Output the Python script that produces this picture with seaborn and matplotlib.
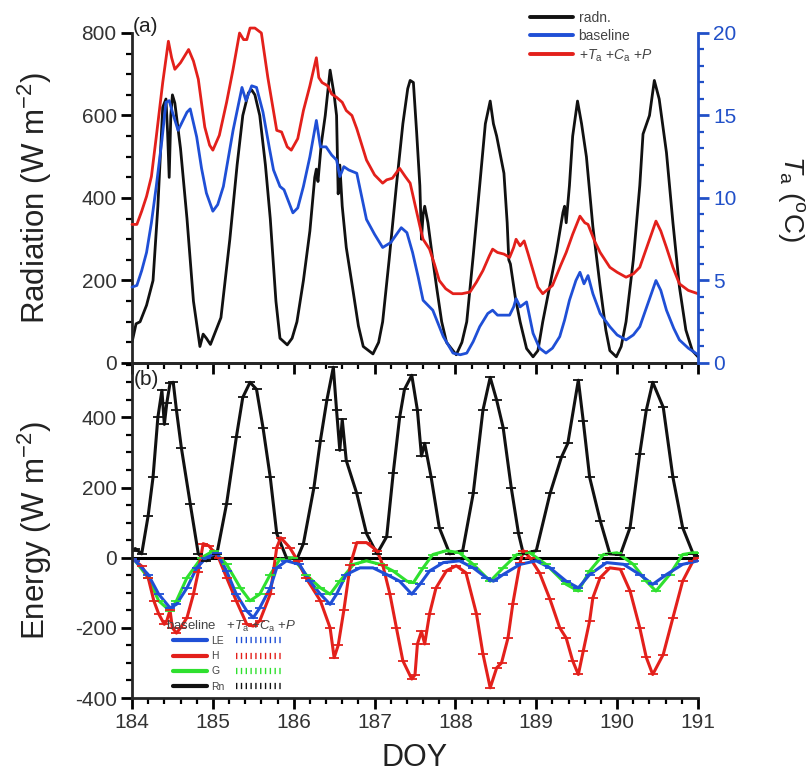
import numpy as np
import pandas as pd
import matplotlib
matplotlib.use("Agg")
import matplotlib.pyplot as plt
from matplotlib.lines import Line2D
from matplotlib.ticker import MultipleLocator
import seaborn as sns

# ---------------- data: top panel ----------------
rad_doy = [184.0, 184.05, 184.1, 184.18, 184.26, 184.32, 184.38, 184.42, 184.44, 184.46, 184.48, 184.5,
           184.53, 184.6, 184.68, 184.76, 184.84, 184.88, 184.92, 184.97, 185.04, 185.1, 185.21, 185.3,
           185.37, 185.44, 185.48, 185.52, 185.58, 185.65, 185.71, 185.78, 185.83, 185.92, 185.98, 186.04,
           186.12, 186.2, 186.26, 186.28, 186.3, 186.34, 186.39, 186.45, 186.5, 186.53, 186.55, 186.57,
           186.6, 186.65, 186.73, 186.8, 186.86, 186.98, 187.05, 187.1, 187.18, 187.27, 187.35, 187.41,
           187.44, 187.48, 187.52, 187.56, 187.58, 187.6, 187.62, 187.66, 187.72, 187.77, 187.83, 187.89, 188.01,
           188.08, 188.14, 188.22, 188.3, 188.37, 188.43, 188.47, 188.51, 188.56, 188.6, 188.64, 188.66,
           188.68, 188.74, 188.8, 188.88, 188.96, 189.02, 189.08, 189.16, 189.25, 189.33, 189.35, 189.37,
           189.41, 189.45, 189.51, 189.56, 189.62, 189.7, 189.79, 189.86, 189.91, 189.99, 190.05, 190.11,
           190.2, 190.28, 190.32, 190.4, 190.46, 190.52, 190.61, 190.69, 190.77, 190.85, 190.93, 191.0]
rad_val = [50, 95, 100, 140, 200, 380, 620, 640, 560, 450, 600, 650,
           630, 520, 350, 150, 40, 70, 60, 45, 80, 110, 300, 480,
           600, 655, 662, 650, 600, 480, 350, 150, 60, 44, 60, 100,
           200, 320, 450, 470, 440, 530, 600, 710, 650, 600, 410, 480,
           380, 280, 180, 90, 40, 22, 50, 100, 250, 430, 580, 665,
           685, 680, 560, 430, 300, 360, 380, 340, 250, 180, 100, 50, 20,
           50, 100, 260, 430, 580, 635, 580, 550, 500, 460, 340, 250,
           240, 160, 100, 35, 15, 30, 100, 180, 270, 365, 380, 340,
           430, 550, 635, 580, 500, 330, 185, 80, 30, 15, 40, 100,
           250, 430, 555, 600, 685, 640, 510, 340, 185, 80, 30, 15]

ta_scen_doy = [184.0, 184.06, 184.12, 184.18, 184.24, 184.3, 184.38, 184.45, 184.49, 184.53, 184.6, 184.7,
               184.76, 184.82, 184.9, 184.96, 185.0, 185.08, 185.17, 185.25, 185.33, 185.38, 185.42, 185.46,
               185.52, 185.6, 185.68, 185.79, 185.85, 185.92, 185.97, 186.05, 186.12, 186.2, 186.28, 186.31,
               186.35, 186.42, 186.47, 186.53, 186.6, 186.65, 186.72, 186.78, 186.9, 187.0, 187.1, 187.15,
               187.22, 187.31, 187.38, 187.44, 187.5, 187.56, 187.6, 187.68, 187.74, 187.8, 187.88, 187.97,
               188.08, 188.18, 188.26, 188.34, 188.42, 188.46, 188.52, 188.6, 188.67, 188.72, 188.75, 188.8,
               188.85, 188.9, 188.96, 189.02, 189.08, 189.2, 189.3, 189.37, 189.45, 189.54, 189.6, 189.64,
               189.72, 189.79, 189.91, 190.0, 190.11, 190.2, 190.28, 190.38, 190.48, 190.54, 190.61, 190.69,
               190.77, 190.88, 191.0]
ta_scen_val = [8.4, 8.4, 9.2, 10.1, 11.3, 13.7, 17.0, 19.5, 18.5, 17.8, 18.2, 19.0,
               18.3, 17.2, 14.3, 13.2, 12.9, 13.8, 15.8, 17.8, 20.0, 19.6, 19.6, 20.3,
               20.3, 20.0, 17.3, 14.1, 14.0, 13.1, 12.9, 13.6, 15.3, 16.8, 18.5, 17.3,
               17.0, 16.8, 16.3, 16.1, 15.8, 15.3, 15.0, 14.2, 12.3, 11.4, 10.9, 11.1,
               11.2, 11.8, 11.3, 10.9, 9.6, 8.3, 7.5, 6.9, 6.0, 5.0, 4.5, 4.2,
               4.2, 4.3, 4.9, 5.6, 6.5, 6.9, 6.7, 6.6, 6.4, 7.0, 7.5, 7.1,
               7.4, 6.6, 5.6, 4.6, 4.2, 4.7, 5.9, 6.7, 7.8, 8.9, 8.5, 8.4,
               7.4, 6.7, 5.8, 5.5, 5.2, 5.4, 5.8, 7.2, 8.6, 8.0, 7.0, 5.8,
               4.8, 4.4, 4.2]

ta_base_doy = [184.0, 184.06, 184.12, 184.18, 184.24, 184.3, 184.37, 184.42, 184.46, 184.5, 184.57, 184.63,
               184.68, 184.72, 184.8, 184.86, 184.92, 185.0, 185.06, 185.13, 185.25, 185.36, 185.41, 185.48,
               185.54, 185.62, 185.7, 185.75, 185.83, 185.88, 185.99, 186.05, 186.12, 186.2, 186.28, 186.33,
               186.4, 186.47, 186.53, 186.57, 186.62, 186.68, 186.78, 186.9, 187.0, 187.1, 187.2, 187.33,
               187.4, 187.47, 187.54, 187.6, 187.72, 187.85, 187.97, 188.06, 188.14, 188.22, 188.3, 188.4,
               188.46, 188.52, 188.67, 188.72, 188.75, 188.8, 188.88, 188.96, 189.04, 189.12, 189.2, 189.29,
               189.35, 189.41, 189.49, 189.54, 189.59, 189.64, 189.7, 189.79, 189.91, 190.0, 190.11, 190.2,
               190.28, 190.38, 190.48, 190.54, 190.61, 190.7, 190.77, 190.88, 191.0]
ta_base_val = [4.6, 4.7, 5.6, 6.7, 8.5, 10.7, 13.5, 15.8, 15.9, 15.2, 14.1, 14.7,
               15.2, 15.4, 13.7, 11.8, 10.3, 9.2, 9.6, 10.7, 14.1, 16.7, 15.9, 16.8,
               16.7, 15.2, 13.0, 11.7, 10.7, 10.5, 9.1, 9.4, 10.7, 12.5, 14.7, 13.1,
               13.1, 12.6, 12.3, 11.3, 11.9, 11.7, 11.5, 8.7, 7.8, 7.0, 7.3, 8.2,
               7.9, 6.7, 5.2, 3.8, 3.2, 1.6, 0.6, 0.5, 0.6, 1.3, 2.2, 3.0,
               3.2, 2.9, 2.9, 3.4, 3.9, 3.4, 3.7, 1.8, 0.9, 0.6, 0.9, 1.6,
               2.6, 3.8, 5.0, 5.5, 4.8, 5.3, 4.2, 3.0, 2.2, 1.7, 1.4, 1.7,
               2.2, 3.6, 5.0, 4.4, 3.2, 2.1, 1.4, 0.9, 0.5]

# ---------------- data: bottom panel ----------------
rn_doy = [184.0, 184.04, 184.12, 184.2, 184.26, 184.32, 184.37, 184.4, 184.43, 184.47, 184.51, 184.55,
          184.61, 184.72, 184.82, 184.92, 185.05, 185.17, 185.29, 185.37, 185.46, 185.54, 185.62, 185.71,
          185.79, 185.91, 186.04, 186.12, 186.25, 186.33, 186.41, 186.49, 186.53, 186.57, 186.6, 186.65,
          186.78, 186.9, 187.03, 187.15, 187.23, 187.31, 187.37, 187.46, 187.53, 187.58, 187.62, 187.7,
          187.8, 187.93, 188.09, 188.22, 188.34, 188.43, 188.51, 188.59, 188.69, 188.78, 188.84, 189.0,
          189.17, 189.31, 189.39, 189.52, 189.58, 189.66, 189.79, 189.91, 190.04, 190.16, 190.28, 190.36,
          190.44, 190.57, 190.69, 190.81, 190.94, 191.0]
rn_val = [20, 26, 11, 120, 229, 400, 477, 380, 440, 497, 500, 420,
          314, 154, 11, -9, 11, 154, 343, 457, 500, 480, 371, 229,
          69, 0, -4, 40, 200, 334, 449, 543, 420, 306, 394, 277,
          183, 69, 11, 60, 240, 400, 480, 520, 420, 290, 326, 229,
          86, 11, 20, 183, 420, 514, 449, 371, 200, 69, 11, 20,
          183, 286, 326, 506, 391, 229, 106, 11, 9, 86, 297, 420,
          500, 429, 229, 86, 11, 5]

h_doy = [184.0, 184.04, 184.12, 184.2, 184.27, 184.33, 184.4, 184.43, 184.47, 184.5, 184.55, 184.6,
         184.68, 184.76, 184.82, 184.88, 184.95, 185.07, 185.17, 185.29, 185.42, 185.5, 185.58, 185.71,
         185.79, 185.84, 185.95, 186.05, 186.15, 186.33, 186.45, 186.5, 186.55, 186.62, 186.7, 186.78,
         186.9, 187.03, 187.1, 187.19, 187.27, 187.35, 187.46, 187.5, 187.53, 187.58, 187.62, 187.68,
         187.76, 187.89, 188.01, 188.13, 188.26, 188.34, 188.43, 188.51, 188.57, 188.65, 188.71, 188.8,
         188.84, 188.92, 189.04, 189.17, 189.29, 189.37, 189.45, 189.52, 189.58, 189.66, 189.7, 189.79,
         189.91, 190.04, 190.16, 190.28, 190.36, 190.44, 190.57, 190.69, 190.81, 190.94, 191.0]
h_val = [-5, -9, -24, -57, -123, -160, -190, -180, -150, -200, -215, -200,
         -171, -104, -40, 40, 34, 0, -57, -123, -190, -195, -180, -104,
         29, 57, 29, -9, -57, -123, -200, -285, -250, -150, -20, 43,
         43, 20, -20, -104, -200, -294, -346, -334, -246, -210, -246, -160,
         -86, -37, -23, -43, -160, -274, -371, -314, -300, -229, -131, -14,
         20, 0, -43, -119, -200, -229, -294, -333, -267, -180, -114, -57,
         -29, -33, -95, -200, -284, -333, -276, -171, -67, -9, 0]

le_doy = [184.0, 184.04, 184.2, 184.33, 184.47, 184.55, 184.68, 184.8, 184.92, 185.05, 185.17, 185.29,
          185.42, 185.5, 185.58, 185.71, 185.79, 185.91, 186.07, 186.2, 186.33, 186.45, 186.53, 186.65,
          186.82, 186.98, 187.15, 187.31, 187.46, 187.56, 187.68, 187.85, 188.05, 188.22, 188.38, 188.47,
          188.59, 188.8, 189.0, 189.17, 189.37, 189.52, 189.66, 189.87, 190.08, 190.28, 190.44, 190.61,
          190.81, 191.0]
le_val = [-5, -9, -48, -104, -143, -133, -86, -29, 0, 14, -38, -104,
          -152, -171, -143, -86, -29, -9, -19, -67, -104, -133, -104, -48,
          -29, -29, -48, -67, -104, -76, -38, -14, -9, -29, -57, -67,
          -48, -19, -9, -29, -67, -86, -48, -14, -19, -48, -76, -48,
          -19, -9]

g_doy = [184.0, 184.04, 184.2, 184.33, 184.47, 184.55, 184.68, 184.86, 185.01, 185.17, 185.34, 185.46,
         185.58, 185.71, 185.83, 185.99, 186.15, 186.33, 186.45, 186.57, 186.74, 186.9, 187.07, 187.23,
         187.4, 187.48, 187.6, 187.72, 187.89, 188.05, 188.22, 188.43, 188.59, 188.76, 188.92, 189.12,
         189.37, 189.52, 189.66, 189.83, 190.0, 190.2, 190.36, 190.48, 190.65, 190.81, 190.94, 191.0]
g_val = [-5, -9, -57, -123, -152, -123, -57, 0, 20, -19, -86, -123,
         -104, -48, -4, 0, -48, -86, -104, -67, -19, -9, -19, -38,
         -67, -71, -29, 9, 20, 14, -19, -67, -29, 9, 14, -19,
         -76, -95, -38, 9, 14, -19, -67, -95, -48, 9, 14, 14]

# scenario (+Ta +Ca +P) energy fluxes: visually coincide with baseline
rn_scen_val = rn_val
h_scen_val = h_val
le_scen_val = le_val
g_scen_val = g_val

flux_names = ["LE", "H", "G", "Rn"]
top_labels = ["radn.", "baseline", "+$T_\\mathregular{a}$ +$C_\\mathregular{a}$ +$P$"]

# ---------------- style ----------------
sns.set_style("ticks")
plt.rcParams["font.family"] = ["Liberation Sans", "DejaVu Sans"]
plt.rcParams["mathtext.fontset"] = "custom"
plt.rcParams["mathtext.it"] = "Liberation Sans:italic"
plt.rcParams["mathtext.rm"] = "Liberation Sans"
plt.rcParams["axes.unicode_minus"] = False

BLACK = "#111111"
BLUE = "#1f4fd6"
RED = "#e3201b"
GREEN = "#2fe02f"
AXBLUE = "#2150c8"
TXT = "#333333"

fig = plt.figure(figsize=(8.09, 7.77), dpi=100)
L, W = 132 / 809, 566 / 809
ax1 = fig.add_axes([L, 1 - 363 / 777, W, 330 / 777])
ax2 = fig.add_axes([L, 1 - 698 / 777, W, 335 / 777])
ax2.patch.set_visible(False)
ax1r = ax1.twinx()

def line(ax, x, y, color, lw, **kw):
    sns.lineplot(x=x, y=y, ax=ax, color=color, lw=lw, sort=False, estimator=None, **kw)

# top panel
line(ax1, rad_doy, rad_val, BLACK, 2.0)
line(ax1r, ta_base_doy, ta_base_val, BLUE, 2.0)
line(ax1r, ta_scen_doy, ta_scen_val, RED, 2.0)
for ln in ax1r.lines:
    ln.set_clip_on(False)

ax1.set_xlim(184, 191)
ax1.set_ylim(0, 800)
ax1r.set_ylim(0, 20)

# bottom panel
ax2.axhline(0, color="black", lw=2.2, zorder=1)
series = [(le_doy, le_val, le_scen_val, BLUE),
          (h_doy, h_val, h_scen_val, RED),
          (g_doy, g_val, g_scen_val, GREEN),
          (rn_doy, rn_val, rn_scen_val, BLACK)]
for x, yb, ys, c in series[::-1]:
    line(ax2, x, yb, c, 2.2)
for x, yb, ys, c in series[::-1]:
    sns.lineplot(x=x, y=ys, ax=ax2, color=c, lw=0, sort=False, estimator=None,
                 marker="_", markersize=7, markeredgewidth=1.3, markeredgecolor=c)
ax2.set_xlim(184, 191)
ax2.set_ylim(-400, 555)

# ---------------- axes cosmetics ----------------
for ax in (ax1, ax2):
    ax.set_xlabel("")
    ax.set_ylabel("")
    ax.xaxis.set_major_locator(MultipleLocator(1))
    ax.xaxis.set_minor_locator(MultipleLocator(0.2))
    for s in ax.spines.values():
        s.set_linewidth(2)
    ax.tick_params(which="major", direction="out", length=8, width=2, labelsize=15, colors="black",
                   labelcolor=TXT, pad=3)
    ax.tick_params(which="minor", direction="out", length=4, width=1.6, colors="black")

ax1.yaxis.set_major_locator(MultipleLocator(200))
ax1.yaxis.set_minor_locator(MultipleLocator(50))
ax1.spines["top"].set_visible(False)
ax1.spines["right"].set_visible(False)
ax1.tick_params(axis="x", which="both", labelbottom=False)

ax1r.set_ylabel("")
ax1r.yaxis.set_major_locator(MultipleLocator(5))
ax1r.yaxis.set_minor_locator(MultipleLocator(1))
for k in ("top", "left", "bottom"):
    ax1r.spines[k].set_visible(False)
ax1r.spines["right"].set_color(AXBLUE)
ax1r.spines["right"].set_linewidth(2)
ax1r.tick_params(axis="y", which="major", direction="out", length=8, width=2, colors=AXBLUE,
                 labelsize=15, labelcolor=AXBLUE, pad=3)
ax1r.tick_params(axis="y", which="minor", direction="out", length=4, width=1.6, colors=AXBLUE)

ax2.yaxis.set_major_locator(MultipleLocator(200))
ax2.yaxis.set_minor_locator(MultipleLocator(50))
ax2.spines["right"].set_visible(False)
ax2.set_yticks([-400, -200, 0, 200, 400])

# labels
ax1.set_ylabel("Radiation (W m$^{\\mathregular{-2}}$)", fontsize=22.5, color="#222222")
ax1.yaxis.set_label_coords(-0.138, 0.5)
ax2.set_ylabel("Energy (W m$^{\\mathregular{-2}}$)", fontsize=22.5, color="#222222")
ax2.yaxis.set_label_coords(-0.138, 0.5)
ax2.set_xlabel("DOY", fontsize=22, color="#222222")
ax2.xaxis.set_label_coords(0.5, -0.135)
ax1r.set_ylabel("$T_{\\mathregular{a}}$ ($^{\\mathregular{o}}$C)", fontsize=20, color="#222222",
                rotation=270, va="center")
ax1r.yaxis.set_label_coords(1.165, 0.5)

fig.text(133 / 809, 1 - 26 / 777, "(a)", fontsize=15, color="#222222", va="center")
fig.text(134 / 809, 1 - 379 / 777, "(b)", fontsize=15, color="#222222", va="center")

# top legend
h_top = [Line2D([], [], color=BLACK, lw=2.8), Line2D([], [], color=BLUE, lw=2.8),
         Line2D([], [], color=RED, lw=2.8)]
fig.legend(h_top, top_labels, loc="upper left", bbox_to_anchor=(530 / 809, 1 - 11 / 777),
           frameon=False, fontsize=10, handlelength=3.1, handletextpad=0.4, labelspacing=0.3,
           borderaxespad=0, borderpad=0, labelcolor="#444444")

# bottom legend
colors_leg = [BLUE, RED, GREEN, BLACK]
h_solid = [Line2D([], [], color=c, lw=3) for c in colors_leg]
h_bars = [Line2D([], [], color=c, lw=4.5, linestyle=(0, (0.22, 0.55))) for c in colors_leg]
leg1 = fig.legend(h_solid, flux_names, loc="upper left", bbox_to_anchor=(173 / 809, 1 - 636 / 777),
                  frameon=False, fontsize=7.5, handlelength=3.3, handletextpad=0.4,
                  labelspacing=0.5, borderaxespad=0, borderpad=0, labelcolor="#444444")
leg2 = fig.legend(h_bars, ["", "", "", ""], loc="upper left", bbox_to_anchor=(236 / 809, 1 - 636 / 777),
                  frameon=False, fontsize=7.5, handlelength=4.4, handletextpad=0,
                  labelspacing=0.5, borderaxespad=0, borderpad=0)
fig.text(166 / 809, 1 - 626 / 777,
         "baseline   +$T_\\mathregular{a}$ +$C_\\mathregular{a}$ +$P$",
         fontsize=9.5, color="#444444", va="center")

fig.savefig("out.png", dpi=100)
